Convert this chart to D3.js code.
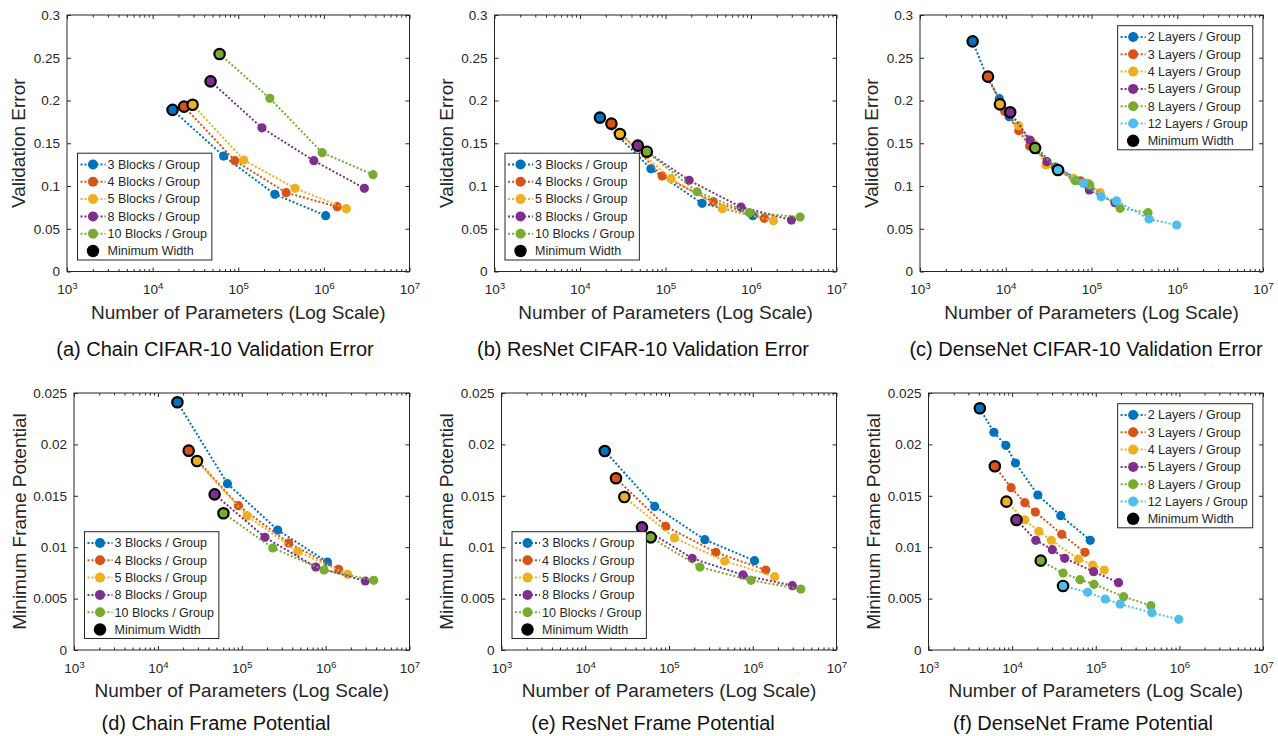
<!DOCTYPE html>
<html>
<head>
<meta charset="utf-8">
<script src="https://cdn.jsdelivr.net/npm/d3@7"></script>
<style>
  body { margin: 0; background: #fff; }
  svg { display: block; font-family: "Liberation Sans", Arial, Helvetica, sans-serif; }
</style>
</head>
<body>
<div id="chart"></div>
<script>
// series names
const blockNames = ['3 Blocks / Group', '4 Blocks / Group', '5 Blocks / Group', '8 Blocks / Group', '10 Blocks / Group'];
const layerNames = ['2 Layers / Group', '3 Layers / Group', '4 Layers / Group', '5 Layers / Group', '8 Layers / Group', '12 Layers / Group'];
const minLabel = 'Minimum Width';

// tick values
const paramTicks = [1e3, 1e4, 1e5, 1e6, 1e7];
const errorTicks = [0, 0.05, 0.1, 0.15, 0.2, 0.25, 0.3];
const frameTicks = [0, 0.005, 0.01, 0.015, 0.02, 0.025];

// chain / resnet parameter counts (same widths for both), first point = minimum width
const blockParams = [
  [17.1e3, 67.5e3, 268e3, 1.05e6],
  [23.3e3, 91.4e3, 363e3, 1.43e6],
  [29.3e3, 116e3, 462e3, 1.83e6],
  [47.5e3, 189e3, 764e3, 2.97e6],
  [60.5e3, 234e3, 955e3, 3.75e6]
];
const chainError = [
  [0.189, 0.135, 0.0903, 0.0653],
  [0.1928, 0.1296, 0.0922, 0.0758],
  [0.195, 0.1304, 0.0973, 0.0735],
  [0.2224, 0.168, 0.1296, 0.0973],
  [0.2544, 0.2025, 0.139, 0.1133]
];
const resnetError = [
  [0.180, 0.1202, 0.0797, 0.0653],
  [0.1729, 0.1117, 0.0817, 0.0622],
  [0.1608, 0.1086, 0.0735, 0.0594],
  [0.1472, 0.1066, 0.0754, 0.0602],
  [0.1401, 0.0933, 0.0688, 0.0637]
];
const chainFrame = [
  [0.0241, 0.01618, 0.01167, 0.00856],
  [0.01939, 0.01404, 0.01041, 0.00785],
  [0.01838, 0.01304, 0.00957, 0.00736],
  [0.01514, 0.01096, 0.00807, 0.00671],
  [0.0133, 0.00992, 0.00778, 0.00678]
];
const resnetFrame = [
  [0.01936, 0.01397, 0.01073, 0.00869],
  [0.0167, 0.01203, 0.0095, 0.00778],
  [0.01488, 0.0109, 0.00866, 0.00713],
  [0.01193, 0.00892, 0.0073, 0.00626],
  [0.01096, 0.00807, 0.00678, 0.00593]
];

// densenet
const denseParams = [
  [4110, 6050, 8410, 10960, 20300, 38100, 85900],
  [6210, 9730, 14190, 18970, 39200, 74300],
  [8550, 14190, 20840, 29440, 61900, 91800, 126500],
  [11270, 19190, 30270, 42560, 94400, 187500],
  [21980, 40640, 64700, 95300, 215300, 456000],
  [40640, 80000, 129700, 195900, 468800, 984000]
];
const denseError = [
  [0.2692, 0.227, 0.2021, 0.181, 0.150, 0.122, 0.103],
  [0.2279, 0.187, 0.1647, 0.1468, 0.121, 0.106],
  [0.1955, 0.1705, 0.150, 0.1246, 0.109, 0.1032, 0.0922],
  [0.1862, 0.1538, 0.1284, 0.118, 0.0953, 0.0805],
  [0.1444, 0.12, 0.1062, 0.1012, 0.0739, 0.0688],
  [0.1187, 0.1032, 0.0875, 0.0825, 0.0614, 0.0544]
];
const denseFrame = [
  [0.02351, 0.02118, 0.01991, 0.01819, 0.01508, 0.01307, 0.01067],
  [0.01787, 0.01579, 0.01433, 0.01342, 0.01125, 0.0095],
  [0.01443, 0.01265, 0.01154, 0.01067, 0.00885, 0.00827, 0.00778],
  [0.01265, 0.01067, 0.00976, 0.00892, 0.00762, 0.00655],
  [0.00869, 0.00749, 0.00684, 0.00639, 0.00519, 0.00431],
  [0.00623, 0.00561, 0.00496, 0.00447, 0.00363, 0.00298]
];

// matlab default colour order
const colors = ['#0072BD', '#D95319', '#EDB120', '#7E2F8E', '#77AC30', '#4DBEEE'];
const axisColor = '#262626';

const width = 1278;
const height = 736;

const panels = [
  { names: blockNames, params: blockParams, values: chainError, yTicks: errorTicks,
    yLabel: 'Validation Error', caption: '(a) Chain CIFAR-10 Validation Error',
    legendAt: 'bottomLeft', left: 67, right: 409.5, top: 15, bottom: 271.5, labelGap: 49, captionX: 215, captionGap: 84 },
  { names: blockNames, params: blockParams, values: resnetError, yTicks: errorTicks,
    yLabel: 'Validation Error', caption: '(b) ResNet CIFAR-10 Validation Error',
    legendAt: 'bottomLeft', left: 494.5, right: 836.5, top: 15, bottom: 271.5, labelGap: 48.5, captionX: 643, captionGap: 84 },
  { names: layerNames, params: denseParams, values: denseError, yTicks: errorTicks,
    yLabel: 'Validation Error', caption: '(c) DenseNet CIFAR-10 Validation Error',
    legendAt: 'topRight', left: 920, right: 1263, top: 15, bottom: 271.5, labelGap: 49, captionX: 1086, captionGap: 84 },
  { names: blockNames, params: blockParams, values: chainFrame, yTicks: frameTicks,
    yLabel: 'Minimum Frame Potential', caption: '(d) Chain Frame Potential',
    legendAt: 'bottomLeft', left: 74, right: 409.5, top: 393, bottom: 650, labelGap: 55, captionX: 216, captionGap: 80 },
  { names: blockNames, params: blockParams, values: resnetFrame, yTicks: frameTicks,
    yLabel: 'Minimum Frame Potential', caption: '(e) ResNet Frame Potential',
    legendAt: 'bottomLeft', left: 501.5, right: 836.5, top: 393, bottom: 650, labelGap: 55.5, captionX: 653, captionGap: 80 },
  { names: layerNames, params: denseParams, values: denseFrame, yTicks: frameTicks,
    yLabel: 'Minimum Frame Potential', caption: '(f) DenseNet Frame Potential',
    legendAt: 'topRight', left: 928.5, right: 1263, top: 393, bottom: 650, labelGap: 55.5, captionX: 1083, captionGap: 80 }
];

const marker = { radius: 4.6, minRadius: 5.2, minStroke: 2.2 };
const tickLen = { major: 4, minor: 2.5 };

const minorTicks = [];
for (let e = 3; e < 7; e++) {
  for (let k = 2; k <= 9; k++) minorTicks.push(k * Math.pow(10, e));
}

const svg = d3.select('#chart')
  .append('svg')
  .attr('width', width)
  .attr('height', height);

svg.append('rect').attr('width', width).attr('height', height).attr('fill', '#fff');

function superscript(d) {
  const t = d3.select(this);
  t.text('10');
  t.append('tspan')
    .attr('dy', '-0.5em')
    .attr('font-size', '0.72em')
    .text(Math.round(Math.log10(d)));
}

function yFormat(d) {
  return d === 0 ? '0' : String(+d.toFixed(4));
}

function styleAxis(a) {
  a.attr('font-family', null)
    .attr('font-size', 13.5)
    .style('color', axisColor);
  a.select('.domain').remove();
  a.selectAll('.tick line').attr('stroke-width', 1);
}

function drawPanel(p) {
  const x = d3.scaleLog().domain([1e3, 1e7]).range([p.left, p.right]);
  const y = d3.scaleLinear()
    .domain([0, p.yTicks[p.yTicks.length - 1]])
    .range([p.bottom, p.top]);

  const g = svg.append('g');

  // axes box
  g.append('rect')
    .attr('x', p.left)
    .attr('y', p.top)
    .attr('width', p.right - p.left)
    .attr('height', p.bottom - p.top)
    .attr('fill', '#fff')
    .attr('stroke', axisColor)
    .attr('stroke-width', 1);

  // x ticks, inside on bottom and top
  g.append('g')
    .attr('transform', `translate(0,${p.bottom})`)
    .call(d3.axisBottom(x).tickValues(paramTicks).tickSizeInner(-tickLen.major).tickSizeOuter(0).tickPadding(13))
    .call(styleAxis)
    .call(a => a.selectAll('.tick text').each(superscript));
  g.append('g')
    .attr('transform', `translate(0,${p.bottom})`)
    .call(d3.axisBottom(x).tickValues(minorTicks).tickSizeInner(-tickLen.minor).tickSizeOuter(0).tickFormat(''))
    .call(styleAxis);
  g.append('g')
    .attr('transform', `translate(0,${p.top})`)
    .call(d3.axisTop(x).tickValues(paramTicks).tickSizeInner(-tickLen.major).tickSizeOuter(0).tickFormat(''))
    .call(styleAxis);
  g.append('g')
    .attr('transform', `translate(0,${p.top})`)
    .call(d3.axisTop(x).tickValues(minorTicks).tickSizeInner(-tickLen.minor).tickSizeOuter(0).tickFormat(''))
    .call(styleAxis);

  // y ticks, inside on left and right
  g.append('g')
    .attr('transform', `translate(${p.left},0)`)
    .call(d3.axisLeft(y).tickValues(p.yTicks).tickSizeInner(-tickLen.major).tickSizeOuter(0).tickPadding(7).tickFormat(yFormat))
    .call(styleAxis);
  g.append('g')
    .attr('transform', `translate(${p.right},0)`)
    .call(d3.axisRight(y).tickValues(p.yTicks).tickSizeInner(-tickLen.major).tickSizeOuter(0).tickFormat(''))
    .call(styleAxis);

  // labels
  g.append('text')
    .attr('x', (p.left + p.right) / 2)
    .attr('y', p.bottom + 47)
    .attr('text-anchor', 'middle')
    .attr('font-size', 19)
    .attr('fill', axisColor)
    .text('Number of Parameters (Log Scale)');

  g.append('text')
    .attr('transform', `translate(${p.left - p.labelGap},${(p.top + p.bottom) / 2}) rotate(-90)`)
    .attr('text-anchor', 'middle')
    .attr('dy', '0.35em')
    .attr('font-size', 19)
    .attr('fill', axisColor)
    .text(p.yLabel);

  g.append('text')
    .attr('x', p.captionX)
    .attr('y', p.bottom + p.captionGap)
    .attr('text-anchor', 'middle')
    .attr('font-size', 20)
    .attr('fill', '#111')
    .text(p.caption);

  // series
  const line = d3.line().x(d => x(d[0])).y(d => y(d[1]));
  const series = p.params.map((ps, i) => d3.zip(ps, p.values[i]));

  series.forEach((pts, i) => {
    const sg = g.append('g').attr('class', 'series');
    sg.append('path')
      .datum(pts)
      .attr('d', line)
      .attr('fill', 'none')
      .attr('stroke', colors[i])
      .attr('stroke-width', 2)
      .attr('stroke-dasharray', '2 2');
    sg.selectAll('circle')
      .data(pts.slice(1))
      .join('circle')
      .attr('cx', d => x(d[0]))
      .attr('cy', d => y(d[1]))
      .attr('r', marker.radius)
      .attr('fill', colors[i]);
  });

  // minimum width points drawn last
  g.append('g')
    .attr('class', 'min-width')
    .selectAll('circle')
    .data(series.map((pts, i) => ({ pt: pts[0], i })))
    .join('circle')
    .attr('cx', d => x(d.pt[0]))
    .attr('cy', d => y(d.pt[1]))
    .attr('r', marker.minRadius)
    .attr('fill', d => colors[d.i])
    .attr('stroke', '#000')
    .attr('stroke-width', marker.minStroke);

  drawLegend(g, p);
}

function drawLegend(g, p) {
  const rowH = 17.3;
  const padTop = 11.3;
  const padBottom = 9;
  const entries = p.names.map((name, i) => ({ name, color: colors[i], min: false }))
    .concat([{ name: minLabel, color: '#000', min: true }]);

  const lg = g.append('g');
  const box = lg.append('rect')
    .attr('fill', '#fff')
    .attr('stroke', axisColor)
    .attr('stroke-width', 1);

  const rows = lg.selectAll('g.row')
    .data(entries)
    .join('g')
    .attr('class', 'row')
    .attr('transform', (d, i) => `translate(0,${padTop + i * rowH})`);

  rows.filter(d => !d.min).append('line')
    .attr('x1', 3).attr('x2', 28)
    .attr('stroke', d => d.color)
    .attr('stroke-width', 2)
    .attr('stroke-dasharray', '2 2');

  rows.append('circle')
    .attr('cx', 15.5)
    .attr('r', d => d.min ? 6.2 : 5)
    .attr('fill', d => d.color);

  const labels = rows.append('text')
    .attr('x', 30)
    .attr('dy', '0.35em')
    .attr('font-size', 12.5)
    .attr('fill', axisColor)
    .text(d => d.name);

  const textW = d3.max(labels.nodes(), n => n.getComputedTextLength());
  const boxW = 30 + textW + 5;
  const boxH = padTop + (entries.length - 1) * rowH + padBottom;
  box.attr('width', boxW).attr('height', boxH);

  const bx = p.legendAt === 'topRight' ? p.right - 10.3 - boxW : p.left + 10.5;
  const by = p.legendAt === 'topRight' ? p.top + 10.7 : p.bottom - 11.5 - boxH;
  lg.attr('transform', `translate(${bx},${by})`);
}

panels.forEach(drawPanel);
</script>
</body>
</html>
